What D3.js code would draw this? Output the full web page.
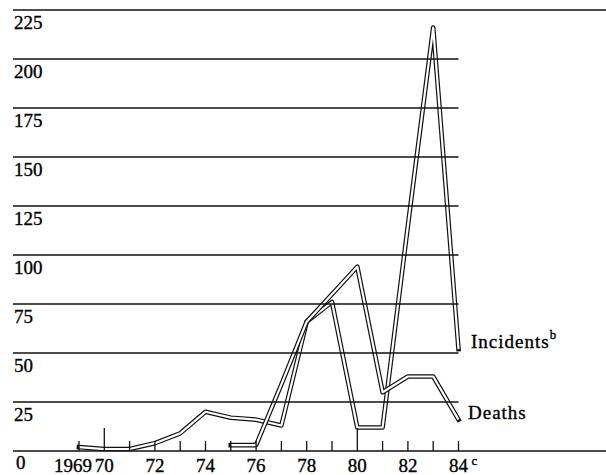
<!DOCTYPE html>
<html lang="en">
<head>
<meta charset="utf-8">
<title>Incidents and deaths</title>
<script type="text/javascript" src="https://d3js.org/d3.v7.min.js"></script>
<style>
body { margin: 0; background: #ffffff; }
text { font-family: "Liberation Serif", "DejaVu Serif", serif; fill: #000; stroke: #000; stroke-width: 0.35; }
</style>
</head>
<body>
<div id="container"></div>
<script type="text/javascript">
var years = [1969, 1970, 1971, 1972, 1973, 1974, 1975, 1976, 1977, 1978, 1979, 1980, 1981, 1982, 1983, 1984];
var incidents = [2, 1, 1, 4, 9, 20, 17, 16, 13, 66, 76, 12, 12, 115, 216, 52];
var deaths = [null, null, null, null, null, null, 3, 3, 34, 66, 80, 94, 30, 38, 38, 16];
var yTicks = [0, 25, 50, 75, 100, 125, 150, 175, 200, 225];
var xLabelYears = [1969, 1970, 1972, 1974, 1976, 1978, 1980, 1982, 1984];
var xLabels = ["1969", "70", "72", "74", "76", "78", "80", "82", "84"];

var w = 606;
var h = 475;
var svg = d3.select("div#container").append("svg")
    .attr("width", w).attr("height", h)
    .style("background-color", "#ffffff");

var x = d3.scaleLinear().domain([1969, 1984]).range([79, 458.5]);
var y = d3.scaleLinear().domain([0, 225]).range([451, 10]);

// series, drawn as double lines (black outline, white core)
var line = d3.line()
    .defined(function(d) { return d.v != null; })
    .x(function(d) { return x(d.year); })
    .y(function(d) { return y(d.v); });

function drawSeries(values) {
    var pts = years.map(function(yr, i) { return {year: yr, v: values[i]}; });
    svg.append("path").attr("d", line(pts))
        .attr("fill", "none").attr("stroke", "#111").attr("stroke-width", 4.6)
        .attr("stroke-linejoin", "round").attr("stroke-linecap", "square");
    svg.append("path").attr("d", line(pts))
        .attr("fill", "none").attr("stroke", "#fff").attr("stroke-width", 2.2)
        .attr("stroke-linejoin", "round").attr("stroke-linecap", "butt");
}
drawSeries(incidents);
drawSeries(deaths);

// gridlines on top of the series
svg.selectAll("line.grid")
    .data(yTicks)
    .enter()
    .append("line")
    .attr("class", "grid")
    .attr("x1", 13)
    .attr("x2", function(d) { return (d === 0 || d === 225) ? w : x(1984); })
    .attr("y1", function(d) { return y(d); })
    .attr("y2", function(d) { return y(d); })
    .attr("stroke", "#111")
    .attr("stroke-width", 1.6);

svg.selectAll("text.ylab")
    .data(yTicks)
    .enter()
    .append("text")
    .attr("class", "ylab")
    .attr("x", function(d) { return d === 0 ? 16 : 14; })
    .attr("y", function(d) { return d === 0 ? y(d) + 18 : y(d) + 19; })
    .attr("font-size", 19)
    .text(function(d) { return d; });

// year ticks
svg.selectAll("line.tick")
    .data(years)
    .enter()
    .append("line")
    .attr("class", "tick")
    .attr("x1", function(d) { return x(d); })
    .attr("x2", function(d) { return x(d); })
    .attr("y1", y(0))
    .attr("y2", function(d) { return (d === 1970 || d === 1980) ? y(0) - 23 : y(0) - 10; })
    .attr("stroke", "#111")
    .attr("stroke-width", 1.3);

svg.selectAll("text.xlab")
    .data(xLabelYears)
    .enter()
    .append("text")
    .attr("class", "xlab")
    .attr("x", function(d) { return d === 1969 ? x(d) + 13 : x(d); })
    .attr("y", 472)
    .attr("font-size", 19)
    .attr("text-anchor", function(d) { return d === 1969 ? "end" : "middle"; })
    .text(function(d, i) { return xLabels[i]; });

svg.append("text")
    .attr("x", x(1984) + 13).attr("y", 465)
    .attr("font-size", 13)
    .text("c");

// series labels at the right end
var lab1 = svg.append("text")
    .attr("x", 471).attr("y", 348)
    .attr("font-size", 19).attr("letter-spacing", 1);
lab1.append("tspan").text("Incidents");
lab1.append("tspan").attr("font-size", 13).attr("dy", -9).text("b");

svg.append("text")
    .attr("x", 468).attr("y", 419)
    .attr("font-size", 19).attr("letter-spacing", 1)
    .text("Deaths");
</script>
</body>
</html>
